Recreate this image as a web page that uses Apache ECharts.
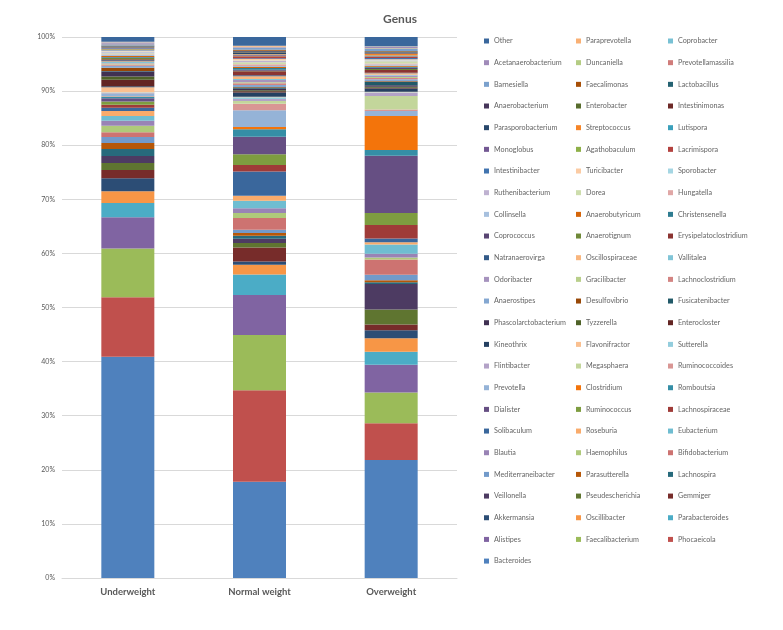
<!DOCTYPE html>
<html><head><meta charset="utf-8">
<script src="https://cdn.jsdelivr.net/npm/echarts/dist/echarts.min.js"></script>
<style>html,body{margin:0;padding:0;background:#fff}#c{width:783px;height:630px}</style>
</head><body><div id="c"></div>
<script>
// Categories (x axis)
const groups = ['Underweight', 'Normal weight', 'Overweight'];

// Genera in stacking order (bottom -> top)
const genera = [
  'Bacteroides','Phocaeicola','Faecalibacterium','Alistipes','Parabacteroides','Oscillibacter',
  'Akkermansia','Gemmiger','Pseudescherichia','Veillonella','Lachnospira','Parasutterella',
  'Mediterraneibacter','Bifidobacterium','Haemophilus','Blautia','Eubacterium','Roseburia',
  'Solibaculum','Lachnospiraceae','Ruminococcus','Dialister','Romboutsia','Clostridium',
  'Prevotella','Ruminococcoides','Megasphaera','Flintibacter','Sutterella','Flavonifractor',
  'Kineothrix','Enterocloster','Tyzzerella','Phascolarctobacterium','Fusicatenibacter','Desulfovibrio',
  'Anaerostipes','Lachnoclostridium','Gracilibacter','Odoribacter','Vallitalea','Oscillospiraceae',
  'Natranaerovirga','Erysipelatoclostridium','Anaerotignum','Coprococcus','Christensenella','Anaerobutyricum',
  'Collinsella','Hungatella','Dorea','Ruthenibacterium','Sporobacter','Turicibacter',
  'Intestinibacter','Lacrimispora','Agathobaculum','Monoglobus','Lutispora','Streptococcus',
  'Parasporobacterium','Intestinimonas','Enterobacter','Anaerobacterium','Lactobacillus','Faecalimonas',
  'Barnesiella','Prevotellamassilia','Duncaniella','Acetanaerobacterium','Coprobacter','Paraprevotella',
  'Other'
];

// Relative abundance (%) per group, same order as genera
const underweight = [
  40.9, 11.0, 9.0, 5.8, 2.6, 2.2,
  2.4, 1.5, 1.3, 1.3, 1.3, 1.1,
  1.1, 0.9, 1.2, 0.9, 0.9, 0.9,
  0.6, 0.6, 0.6, 0.6, 0.2, 0.1,
  0.6, 0.05, 0.05, 0.05, 0.05, 0.9,
  0.2, 1.2, 0.6, 0.9, 0.1, 0.6,
  0.4, 0.2, 0.2, 0.1, 0.2, 0.1,
  0.2, 0.2, 0.2, 0.1, 0.1, 0.2,
  0.2, 0.1, 0.2, 0.2, 0.1, 0.2,
  0.1, 0.1, 0.1, 0.1, 0.05, 0.1,
  0.1, 0.05, 0.05, 0.05, 0.1, 0.05,
  0.2, 0.05, 0.05, 0.25, 0.05, 0.05,
  0.9
];
const normalWeight = [
  17.8, 16.9, 10.2, 7.4, 3.8, 1.8,
  0.6, 2.6, 0.8, 0.8, 0.55, 0.5,
  0.6, 2.2, 0.9, 0.9, 1.4, 0.9,
  4.5, 1.2, 2.0, 3.2, 1.4, 0.4,
  3.1, 1.2, 0.5, 0.4, 0.3, 0.1,
  0.8, 0.2, 0.2, 0.3, 0.2, 0.1,
  0.4, 0.3, 0.2, 0.4, 0.2, 0.5,
  0.2, 0.7, 0.1, 0.2, 0.3, 0.2,
  0.2, 0.3, 0.4, 0.2, 0.1, 0.3,
  0.1, 0.4, 0.1, 0.1, 0.1, 0.1,
  0.3, 0.05, 0.05, 0.1, 0.1, 0.2,
  0.3, 0.05, 0.05, 0.1, 0.05, 0.2,
  1.6
];
const overweight = [
  21.8, 6.8, 5.7, 5.1, 2.4, 2.5,
  1.5, 1.05, 2.8, 4.7, 0.3, 0.4,
  1.0, 2.8, 0.4, 0.7, 1.7, 0.4,
  0.7, 2.5, 2.2, 10.6, 1.05, 6.3,
  0.9, 0.3, 2.5, 0.6, 0.1, 0.1,
  0.6, 0.1, 0.2, 0.3, 0.6, 0.1,
  0.4, 0.2, 0.2, 0.3, 0.1, 0.3,
  0.1, 0.5, 0.2, 0.2, 0.2, 0.2,
  0.2, 0.2, 0.4, 0.1, 0.1, 0.2,
  0.2, 0.2, 0.1, 0.1, 0.1, 0.3,
  0.1, 0.05, 0.05, 0.1, 0.1, 0.1,
  0.4, 0.05, 0.05, 0.3, 0.05, 0.05,
  1.7
];

// ---- Excel-like palette (accent colours with luminance variations) ----
const accents = ['#4F81BD','#C0504D','#9BBB59','#8064A2','#4BACC6','#F79646'];
const variants = [['b',1],['d',0.6],['l',0.2],['d',0.8],['l',0.4],['d',0.5],['l',0.3],['d',0.7],['l',0.5],['d',0.9],['d',0.55],['l',0.25],['d',0.8]];
function hexToHsl(h){
  const r=parseInt(h.substr(1,2),16)/255,g=parseInt(h.substr(3,2),16)/255,b=parseInt(h.substr(5,2),16)/255;
  const mx=Math.max(r,g,b),mn=Math.min(r,g,b);let hh=0,s=0;const l=(mx+mn)/2;
  if(mx!==mn){const d=mx-mn;s=l>0.5?d/(2-mx-mn):d/(mx+mn);
    if(mx===r)hh=(g-b)/d+(g<b?6:0);else if(mx===g)hh=(b-r)/d+2;else hh=(r-g)/d+4;hh/=6;}
  return [hh,s,l];
}
function hslToHex(h,s,l){
  function f(p,q,t){if(t<0)t+=1;if(t>1)t-=1;if(t<1/6)return p+(q-p)*6*t;if(t<1/2)return q;if(t<2/3)return p+(q-p)*(2/3-t)*6;return p;}
  let r,g,b;if(s===0){r=g=b=l;}else{const q=l<0.5?l*(1+s):l+s-l*s,p=2*l-q;r=f(p,q,h+1/3);g=f(p,q,h);b=f(p,q,h-1/3);}
  const x=v=>Math.round(v*255).toString(16).padStart(2,'0');return '#'+x(r)+x(g)+x(b);
}
function seriesColor(i){
  const base=hexToHsl(accents[i%6]);const v=variants[Math.floor(i/6)%variants.length];
  let L=base[2];if(v[0]==='d')L=L*v[1];else if(v[0]==='l')L=L+(1-L)*v[1];
  return hslToHex(base[0],base[1],L);
}

const series = genera.map((name,i)=>({
  name:name, type:'bar', stack:'total', barWidth:53,
  data:[underweight[i], normalWeight[i], overweight[i]],
  itemStyle:{color:seriesColor(i)},
  emphasis:{disabled:true}
}));

// Legend: 3 columns, rows read in reverse stacking order (like Excel)
const rev = genera.slice().reverse();
const legendCols = [[],[],[]];
rev.forEach((n,k)=>legendCols[k%3].push(n));
const legendLeft = [479, 571, 663];
const legends = legendCols.map((col,c)=>({
  data:col, orient:'vertical', left:legendLeft[c], top:31,
  itemWidth:5, itemHeight:5, itemGap:11.67, icon:'rect',
  selectedMode:false,
  textStyle:{fontSize:7.2, color:'#666666', fontFamily:'Lato', lineHeight:10}
}));

const chart = echarts.init(document.getElementById('c'), null, {renderer:'canvas'});
chart.setOption({
  animation:false,
  backgroundColor:'#fff',
  textStyle:{fontFamily:'Lato'},
  title:{text:'Genus', left:395, top:8, textAlign:'center',
    textStyle:{fontSize:12, fontWeight:'bold', color:'#595959', fontFamily:'Lato'}},
  legend:legends,
  grid:{left:62, right:326, top:37, bottom:52, containLabel:false},
  xAxis:{type:'category', data:groups,
    axisTick:{show:false},
    axisLine:{lineStyle:{color:'#D9D9D9', width:1}},
    axisLabel:{fontSize:9.5, fontWeight:'bold', color:'#595959', margin:9, fontFamily:'Lato'}},
  yAxis:{type:'value', min:0, max:100, interval:10,
    axisLine:{show:false}, axisTick:{show:false},
    splitLine:{lineStyle:{color:'#D9D9D9', width:1}},
    axisLabel:{formatter:'{value}%', fontSize:7, color:'#595959', margin:7, fontFamily:'Lato'}},
  series:series
});
</script>
</body></html>
